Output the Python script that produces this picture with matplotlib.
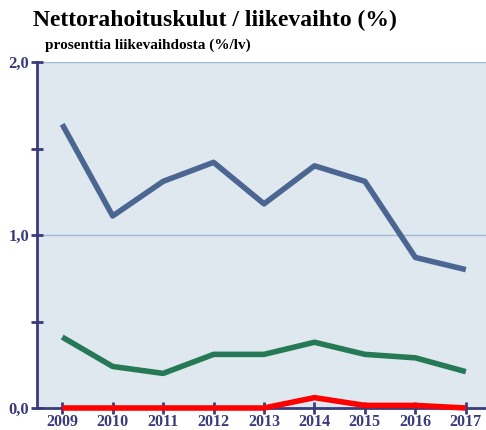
import matplotlib.pyplot as plt
import numpy as np

years = [2009, 2010, 2011, 2012, 2013, 2014, 2015, 2016, 2017]
series_blue = [1.64, 1.11, 1.31, 1.42, 1.18, 1.40, 1.31, 0.87, 0.80]
series_green = [0.41, 0.24, 0.20, 0.31, 0.31, 0.38, 0.31, 0.29, 0.21]
series_red = [0.0, 0.0, 0.0, 0.0, 0.0, 0.06, 0.015, 0.015, 0.0]
y_ticks = [0.0, 0.5, 1.0, 1.5, 2.0]
y_labels = ["0,0", "", "1,0", "", "2,0"]

navy = "#3b3b7c"
plt.rcParams["font.family"] = ["Liberation Serif", "DejaVu Serif"]

fig = plt.figure(figsize=(4.86, 4.3), dpi=100)
ax = fig.add_axes([37 / 486, 22 / 430, 449 / 486, 346 / 430])
ax.set_facecolor("#dfe7ef")

ax.plot(years, series_blue, color="#4b6690", lw=4, solid_capstyle="butt", zorder=3)
ax.plot(years, series_green, color="#257a55", lw=4, solid_capstyle="butt", zorder=3)
ax.plot(years, series_red, color="#ff0000", lw=4, solid_capstyle="butt", zorder=4, clip_on=False)

for g in [1.0, 2.0]:
    ax.axhline(g, color="#9dbbd6", lw=1, zorder=1)

ax.set_xlim(2008.5, 2017.4)
ax.set_ylim(0, 2.0)
ax.set_xticks(years)
ax.set_yticks(y_ticks)
ax.set_yticklabels(y_labels)

for s in ["top", "right"]:
    ax.spines[s].set_visible(False)
for s in ["left", "bottom"]:
    ax.spines[s].set_color(navy)
    ax.spines[s].set_linewidth(2)
    ax.spines[s].set_zorder(2)

ax.tick_params(axis="both", direction="inout", color=navy, width=2, length=9,
               labelcolor=navy, labelsize=12)
ax.tick_params(axis="x", pad=0, labelsize=11.5)
ax.tick_params(axis="y", pad=1)
for lbl in ax.get_xticklabels() + ax.get_yticklabels():
    lbl.set_fontweight("bold")

fig.text(33 / 486, 1 - 20 / 430, "Nettorahoituskulut / liikevaihto (%)",
         fontsize=17, fontweight="bold", va="center", ha="left")
fig.text(45 / 486, 1 - 45 / 430, "prosenttia liikevaihdosta (%/lv)",
         fontsize=11, fontweight="bold", va="center", ha="left")

fig.savefig("out.png", dpi=100)
